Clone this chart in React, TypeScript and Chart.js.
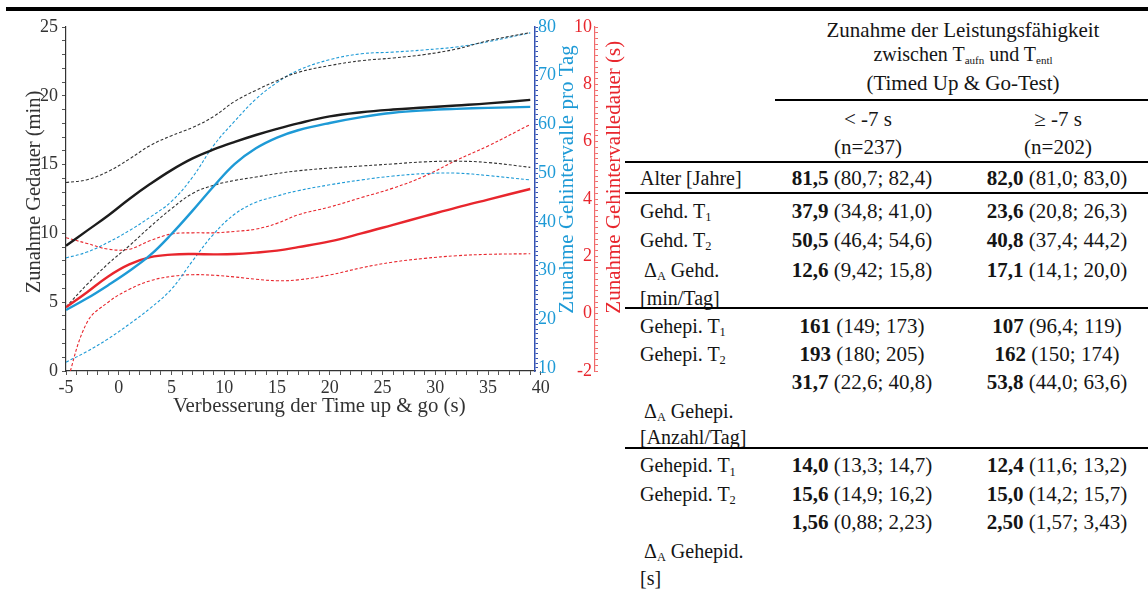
import React, { useEffect, useRef } from "react";
import { Chart, registerables } from "chart.js";

Chart.register(...registerables);

const SERIF = '"Liberation Serif", "Times New Roman", Tinos, serif';

// ---- chart data (x = Verbesserung der Time up & go in s) ----
const improvement = [-5, -3, -1, 1, 3, 5, 7, 9, 11, 13, 15, 17, 20, 23, 26, 29, 32, 35, 39];

// Zunahme Gedauer (min) – left axis
const gehdauer = [9.1, 10.2, 11.3, 12.5, 13.6, 14.6, 15.45, 16.1, 16.65, 17.15, 17.6, 18.0, 18.5, 18.8, 19.0, 19.15, 19.3, 19.45, 19.7];
const gehdauerUpper = [13.7, 13.9, 14.5, 15.4, 16.4, 17.1, 17.7, 18.5, 19.6, 20.4, 21.1, 21.7, 22.2, 22.55, 22.75, 23.0, 23.4, 24.0, 24.6];
const gehdauerLower = [4.65, 6.3, 7.8, 9.1, 10.5, 11.8, 12.9, 13.5, 13.85, 14.1, 14.35, 14.55, 14.75, 14.9, 15.05, 15.2, 15.25, 15.15, 14.8];

// Zunahme Gehintervalle pro Tag – blue axis
const intervalle = [21.9, 24.3, 27.0, 29.9, 33.2, 37.5, 42.3, 47.3, 51.9, 55.1, 57.3, 58.8, 60.3, 61.5, 62.4, 62.9, 63.2, 63.4, 63.6];
const intervalleUpper = [32.6, 33.8, 35.8, 38.2, 41.0, 44.2, 49.2, 55.7, 60.7, 65.2, 68.6, 71.1, 73.3, 74.5, 74.85, 75.3, 75.9, 77.0, 78.8];
const intervalleLower = [11.2, 13.4, 16.0, 19.0, 22.3, 26.2, 32.0, 37.5, 41.6, 44.0, 45.3, 46.4, 47.6, 48.6, 49.4, 49.9, 50.0, 49.5, 48.6];

// Zunahme Gehintervalledauer (s) – red axis
const intervalldauer = [0.22, 0.75, 1.3, 1.72, 1.97, 2.06, 2.08, 2.07, 2.08, 2.13, 2.2, 2.32, 2.52, 2.8, 3.1, 3.4, 3.7, 3.98, 4.35];
const intervalldauerUpper = [2.65, 2.45, 2.25, 2.25, 2.55, 2.78, 2.82, 2.82, 2.87, 2.95, 3.15, 3.45, 3.72, 4.05, 4.38, 4.8, 5.35, 5.85, 6.6];
const intervalldauerLower = [-2.5, -0.3, 0.4, 0.85, 1.15, 1.3, 1.36, 1.34, 1.28, 1.2, 1.15, 1.18, 1.35, 1.6, 1.8, 1.93, 2.02, 2.07, 2.09];

// tick labels
const xTickLabels = [-5, 0, 5, 10, 15, 20, 25, 30, 35, 40];
const minTickLabels = [0, 5, 10, 15, 20, 25];
const countTickLabels = [10, 20, 30, 40, 50, 60, 70, 80];
const durationTickLabels = [-2, 0, 2, 4, 6, 8, 10];

const titleX = "Verbesserung der Time up & go (s)";
const titleLeft = "Zunahme Gedauer (min)";
const titleBlue = "Zunahme Gehintervalle pro Tag";
const titleRed = "Zunahme Gehintervalledauer (s)";

// ---- table data ----
const headerLines = ["Zunahme der Leistungsfähigkeit", "(Timed Up & Go-Test)"];
const groupLabels = ["< -7 s", "≥ -7 s"];
const groupSizes = ["(n=237)", "(n=202)"];
const meanLow = ["81,5", "37,9", "50,5", "12,6", "161", "193", "31,7", "14,0", "15,6", "1,56"];
const ciLow = ["(80,7; 82,4)", "(34,8; 41,0)", "(46,4; 54,6)", "(9,42; 15,8)", "(149; 173)", "(180; 205)", "(22,6; 40,8)", "(13,3; 14,7)", "(14,9; 16,2)", "(0,88; 2,23)"];
const meanHigh = ["82,0", "23,6", "40,8", "17,1", "107", "162", "53,8", "12,4", "15,0", "2,50"];
const ciHigh = ["(81,0; 83,0)", "(20,8; 26,3)", "(37,4; 44,2)", "(14,1; 20,0)", "(96,4; 119)", "(150; 174)", "(44,0; 63,6)", "(11,6; 13,2)", "(14,2; 15,7)", "(1,57; 3,43)"];

const BLACK = "#1c1c1c";
const BLUE = "#1e9ad6";
const BLUE_AXIS = "#3553b3";
const RED = "#e8262d";
const RED_AXIS = "#f06b6b";
const GREY = "#333333";

function range(start: number, end: number, step: number) {
  const out: number[] = [];
  const n = Math.round((end - start) / step);
  for (let i = 0; i <= n; i++) out.push(Math.round((start + i * step) * 1000) / 1000);
  return out;
}
const hasLabel = (list: number[], v: number) => list.some((t) => Math.abs(t - v) < 1e-6);
const pts = (ys: number[]) => improvement.map((x, i) => ({ x, y: ys[i] }));

const axisTitlePlugin = {
  id: "axisTitles",
  afterDraw(chart: any) {
    const { ctx, scales, chartArea } = chart;
    const draw = (text: string, x: number, y: number, rot: number, color: string, size: number, align: CanvasTextAlign) => {
      ctx.save();
      ctx.translate(x, y);
      ctx.rotate(rot);
      ctx.font = `${size}px ${SERIF}`;
      ctx.fillStyle = color;
      ctx.textAlign = align;
      ctx.textBaseline = "alphabetic";
      ctx.fillText(text, 0, 0);
      ctx.restore();
    };
    draw(titleLeft, scales.y.left + 40, chartArea.top + 165, -Math.PI / 2, GREY, 20.5, "center");
    draw(titleX, scales.x.getPixelForValue(19), chartArea.bottom + 41, 0, GREY, 20.8, "center");
    draw(titleBlue, scales.yBlue.left + 38, scales.yRed.getPixelForValue(0), -Math.PI / 2, BLUE, 21, "left");
    draw(titleRed, scales.yRed.left + 25, scales.yRed.getPixelForValue(0), -Math.PI / 2, RED, 21, "left");
  },
};

const tickFont = { family: SERIF, size: 18 };

function line(data: number[], axis: string, color: string, dashed: boolean) {
  return {
    data: pts(data),
    yAxisID: axis,
    borderColor: color,
    borderWidth: dashed ? 1.1 : 2.4,
    borderDash: dashed ? [3, 2] : [],
    pointRadius: 0,
    fill: false,
    tension: 0.4,
  };
}

function Txt({ x, y, align = "left", size = 20, children }: any) {
  return (
    <div
      style={{
        position: "absolute",
        left: x,
        top: y - 12,
        lineHeight: "24px",
        fontSize: size,
        whiteSpace: "nowrap",
        transform: align === "center" ? "translateX(-50%)" : undefined,
      }}
    >
      {children}
    </div>
  );
}
const Sub = ({ children, scale = 0.62 }: any) => (
  <span style={{ fontSize: scale + "em", position: "relative", top: "0.28em" }}>{children}</span>
);
function Rule({ x1, x2, y, h }: any) {
  return <div style={{ position: "absolute", left: x1, width: x2 - x1, top: y, height: h, background: "#000" }} />;
}

export default function App() {
  const canvasRef = useRef<HTMLCanvasElement>(null);

  useEffect(() => {
    const chart = new Chart(canvasRef.current as HTMLCanvasElement, {
      type: "line",
      data: {
        datasets: [
          line(gehdauer, "y", BLACK, false),
          line(intervalle, "yBlue", BLUE, false),
          line(intervalldauer, "yRed", RED, false),
          line(gehdauerUpper, "y", GREY, true),
          line(gehdauerLower, "y", GREY, true),
          line(intervalleUpper, "yBlue", BLUE, true),
          line(intervalleLower, "yBlue", BLUE, true),
          line(intervalldauerUpper, "yRed", RED, true),
          line(intervalldauerLower, "yRed", RED, true),
        ] as any,
      },
      options: {
        animation: false,
        responsive: false,
        events: [],
        layout: { padding: { top: 27, left: 0, right: 0, bottom: 0 } },
        plugins: { legend: { display: false }, tooltip: { enabled: false } },
        scales: {
          x: {
            type: "linear",
            min: -5,
            max: 39.45,
            afterBuildTicks: (s: any) => {
              s.ticks = range(-5, 40, 1).map((value) => ({ value }));
            },
            afterFit: (s: any) => {
              s.height = 59;
            },
            ticks: {
              autoSkip: false,
              maxRotation: 0,
              padding: 2,
              color: GREY,
              font: tickFont,
              callback: (v: any) => (hasLabel(xTickLabels, Number(v)) ? String(v) : ""),
            },
            grid: { drawOnChartArea: false, tickLength: 4, tickColor: "#555" },
            border: { color: GREY, width: 1.2 },
          },
          y: {
            position: "left",
            min: 0,
            max: 25,
            afterBuildTicks: (s: any) => {
              s.ticks = range(0, 25, 1).map((value) => ({ value }));
            },
            afterFit: (s: any) => {
              s.width = 66;
            },
            ticks: {
              autoSkip: false,
              padding: 4,
              color: GREY,
              font: tickFont,
              callback: (v: any) => (hasLabel(minTickLabels, Number(v)) ? String(v) : ""),
            },
            grid: { drawOnChartArea: false, tickLength: 4, tickColor: "#555" },
            border: { color: GREY, width: 1.2 },
          },
          yBlue: {
            position: "right",
            weight: 0,
            min: 9.38,
            max: 80,
            afterBuildTicks: (s: any) => {
              s.ticks = range(10, 80, 1).map((value) => ({ value }));
            },
            afterFit: (s: any) => {
              s.width = 60;
            },
            ticks: {
              autoSkip: false,
              padding: 0,
              color: BLUE,
              font: tickFont,
              callback: (v: any) => (hasLabel(countTickLabels, Number(v)) ? String(v) : ""),
            },
            grid: { drawOnChartArea: false, tickLength: 3, tickColor: BLUE_AXIS },
            border: { color: BLUE_AXIS, width: 1.5 },
          },
          yRed: {
            position: "right",
            weight: 1,
            min: -2,
            max: 10,
            afterBuildTicks: (s: any) => {
              s.ticks = range(-2, 10, 0.2).map((value) => ({ value }));
            },
            afterFit: (s: any) => {
              s.width = 35;
            },
            ticks: {
              autoSkip: false,
              mirror: true,
              padding: -3,
              color: RED,
              font: tickFont,
              callback: (v: any) => (hasLabel(durationTickLabels, Number(v)) ? String(v) : ""),
            },
            grid: { drawOnChartArea: false, tickLength: 3, tickColor: RED_AXIS },
            border: { color: RED_AXIS, width: 1.2 },
          },
        },
      } as any,
      plugins: [axisTitlePlugin],
    });
    return () => chart.destroy();
  }, []);

  const valueY = [178, 210.5, 240, 270, 325.7, 354, 382, 465.3, 494, 522];
  const colHeaderX = [868, 1058];
  const colValueX = [862, 1057];

  return (
    <div
      style={{
        position: "fixed",
        left: 0,
        top: 0,
        width: 1148,
        height: 591,
        overflow: "hidden",
        background: "#fff",
        fontFamily: SERIF,
        color: "#151515",
      }}
    >
      <Rule x1={6} x2={1148} y={7} h={4} />
      <canvas ref={canvasRef} width={630} height={430} style={{ position: "absolute", left: 0, top: 0 }} />

      {/* table header */}
      <Txt x={963} y={30} align="center" size={21}>{headerLines[0]}</Txt>
      <Txt x={963} y={54} align="center" size={20}>
        zwischen T<Sub scale={0.55}>aufn</Sub> und T<Sub scale={0.55}>entl</Sub>
      </Txt>
      <Txt x={963} y={82.5} align="center" size={21}>{headerLines[1]}</Txt>
      <Rule x1={775} x2={1148} y={98.5} h={2} />
      {groupLabels.map((g, i) => (
        <Txt key={"g" + i} x={colHeaderX[i]} y={118.5} align="center" size={21}>{g}</Txt>
      ))}
      {groupSizes.map((g, i) => (
        <Txt key={"n" + i} x={colHeaderX[i]} y={146.5} align="center" size={21}>{g}</Txt>
      ))}
      <Rule x1={625} x2={1148} y={160.5} h={2} />

      {/* row labels */}
      <Txt x={640} y={178}>Alter [Jahre]</Txt>
      <Rule x1={625} x2={1148} y={192} h={2} />
      <Txt x={640} y={210.5}>Gehd. T<Sub>1</Sub></Txt>
      <Txt x={640} y={240}>Gehd. T<Sub>2</Sub></Txt>
      <Txt x={644} y={270}>Δ<Sub>A</Sub> Gehd.</Txt>
      <Txt x={640} y={297.5}>[min/Tag]</Txt>
      <Rule x1={625} x2={1148} y={307} h={2} />
      <Txt x={640} y={325.7}>Gehepi. T<Sub>1</Sub></Txt>
      <Txt x={640} y={354}>Gehepi. T<Sub>2</Sub></Txt>
      <Txt x={644} y={410.5}>Δ<Sub>A</Sub> Gehepi.</Txt>
      <Txt x={640} y={437}>[Anzahl/Tag]</Txt>
      <Rule x1={625} x2={1148} y={446.5} h={2} />
      <Txt x={640} y={465.3}>Gehepid. T<Sub>1</Sub></Txt>
      <Txt x={640} y={494}>Gehepid. T<Sub>2</Sub></Txt>
      <Txt x={644} y={550.5}>Δ<Sub>A</Sub> Gehepid.</Txt>
      <Txt x={640} y={578}>[s]</Txt>

      {/* values */}
      {valueY.map((y, i) => (
        <React.Fragment key={"v" + i}>
          <Txt x={colValueX[0]} y={y} align="center" size={21}>
            <b>{meanLow[i]}</b> {ciLow[i]}
          </Txt>
          <Txt x={colValueX[1]} y={y} align="center" size={21}>
            <b>{meanHigh[i]}</b> {ciHigh[i]}
          </Txt>
        </React.Fragment>
      ))}
    </div>
  );
}
